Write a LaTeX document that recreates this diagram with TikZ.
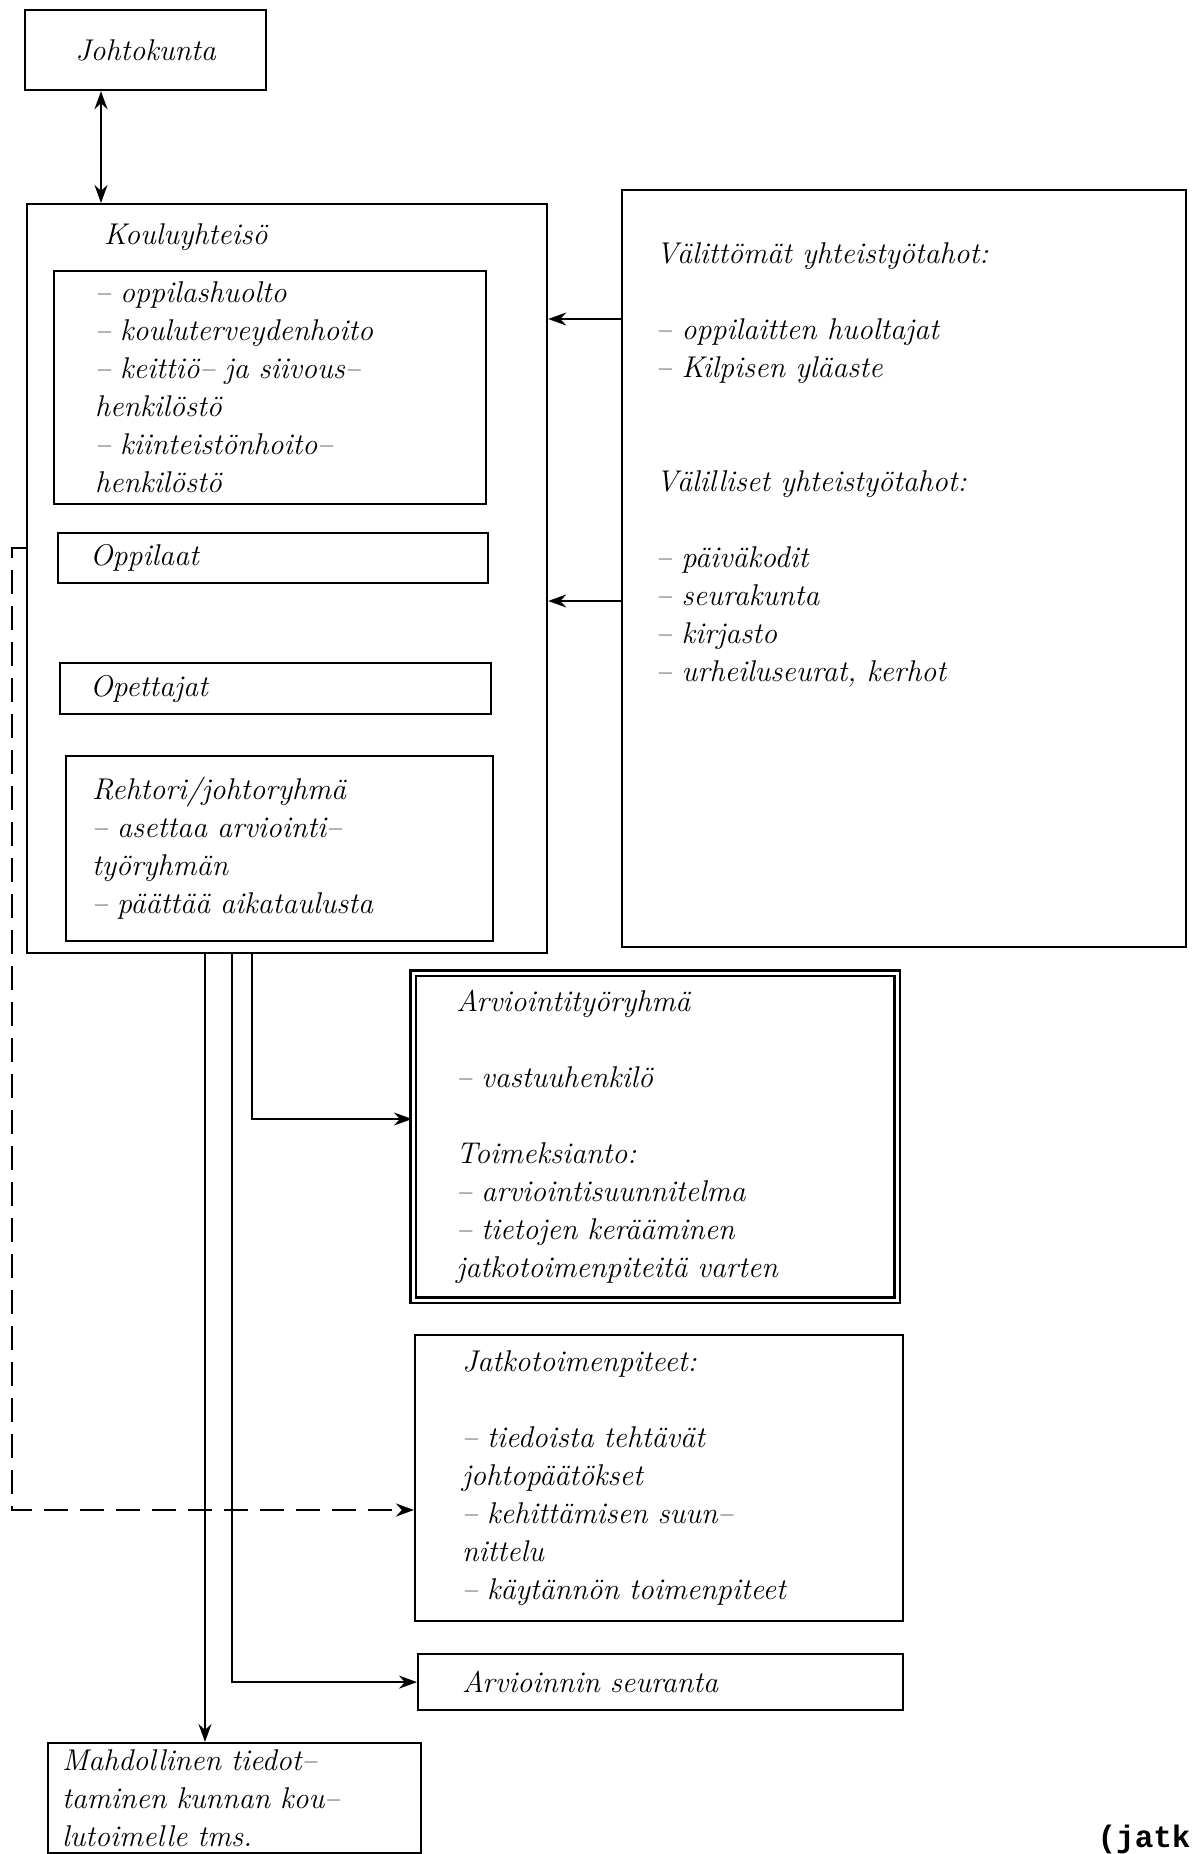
\documentclass[tikz,border=0pt]{standalone}
\usepackage{fontspec}
\setmonofont{Liberation Mono}
\usetikzlibrary{arrows.meta}

\begin{document}
\begin{tikzpicture}[x=0.5pt, y=-0.5pt, >={Stealth[length=9pt,width=6.5pt]},
box/.style={line width=1.1pt, shape=rectangle, draw=black, anchor=north west, align=left, inner ysep=0pt, font=\itshape\fontsize{15pt}{19pt}\selectfont},
link/.style={line width=0.9pt}]
\useasboundingbox (0,0) rectangle (1191,1854);
\node[box, align=center, minimum width=120.5pt, minimum height=40pt] (0) at (24,9) {Johtokunta};
\node[box, minimum width=260pt, minimum height=374.5pt] (1) at (26,203) {};
\node[box, draw=none, anchor=west, inner sep=0pt] (1t) at (103,237) {Kouluyhteisö};
\node[box, inner xsep=20.5pt, text width=175pt, minimum height=116.5pt] (2) at (53,270) {– oppilashuolto\\– kouluterveydenhoito\\– keittiö– ja siivous–\\henkilöstö\\– kiinteistönhoito–\\henkilöstö};
\node[box, inner xsep=16pt, text width=183pt, minimum height=25pt] (3) at (57,532) {Oppilaat};
\node[box, inner xsep=15pt, text width=185.5pt, minimum height=25.5pt] (4) at (59,662) {Opettajat};
\node[box, inner xsep=13pt, text width=187.5pt, minimum height=92.5pt] (5) at (65,755) {Rehtori/johtoryhmä\\– asettaa arviointi–\\työryhmän\\– päättää aikataulusta};
\node[box, minimum width=282pt, minimum height=378.5pt] (6) at (621,189) {};
\node[box, draw=none, inner sep=0pt] (6t) at (655,242) {Välittömät yhteistyötahot:\\[19pt]– oppilaitten huoltajat\\– Kilpisen yläaste\\[38pt]Välilliset yhteistyötahot:\\[19pt]– päiväkodit\\– seurakunta\\– kirjasto\\– urheiluseurat, kerhot};
\node[box, double, double distance=1.4pt, line width=1.3pt, inner xsep=21.5pt, text width=199pt, minimum height=163.5pt] (7) at (412,972) {Arviointityöryhmä\\[19pt]– vastuuhenkilö\\[19pt]Toimeksianto:\\– arviointisuunnitelma\\– tietojen kerääminen\\jatkotoimenpiteitä varten};
\node[box, inner xsep=23.5pt, text width=197pt, minimum height=143pt] (8) at (414,1334) {Jatkotoimenpiteet:\\[19pt]– tiedoista tehtävät\\johtopäätökset\\– kehittämisen suun–\\nittelu\\– käytännön toimenpiteet};
\node[box, inner xsep=22pt, text width=198.5pt, minimum height=28pt] (9) at (417,1653) {Arvioinnin seuranta};
\node[box, inner xsep=7pt, text width=172.5pt, minimum height=55pt] (10) at (47,1742) {Mahdollinen tiedot–\\taminen kunnan kou–\\lutoimelle tms.};
\node[inner sep=0pt, anchor=east, font=\ttfamily\bfseries\fontsize{15.5pt}{18pt}\selectfont] (11) at (1191,1839) {(jatk};
\coordinate (c0) at (101,0);
\coordinate (c1) at (205,0);
\coordinate (c2) at (232,0);
\coordinate (c3) at (252,1119);
\coordinate (c4) at (0,319);
\coordinate (c5) at (0,601);
\coordinate (c6) at (0,548);
\coordinate (c7) at (12,1510);
\draw[link, <->] (0.south -| c0) -- (1.north -| c0);
\draw[link, ->] (6.west |- c4) -- (1.east |- c4);
\draw[link, ->] (6.west |- c5) -- (1.east |- c5);
\draw[link, ->] (1.south -| c3) |- (7.west |- c3);
\draw[link, ->] (1.south -| c2) |- (9.west);
\draw[link, ->] (1.south -| c1) -- (10.north -| c1);
\draw[link, ->, line width=1.3pt, dash pattern=on 12pt off 6pt] (1.west |- c6) -| (c7) -- (8.west |- c7);
\end{tikzpicture}
\end{document}
